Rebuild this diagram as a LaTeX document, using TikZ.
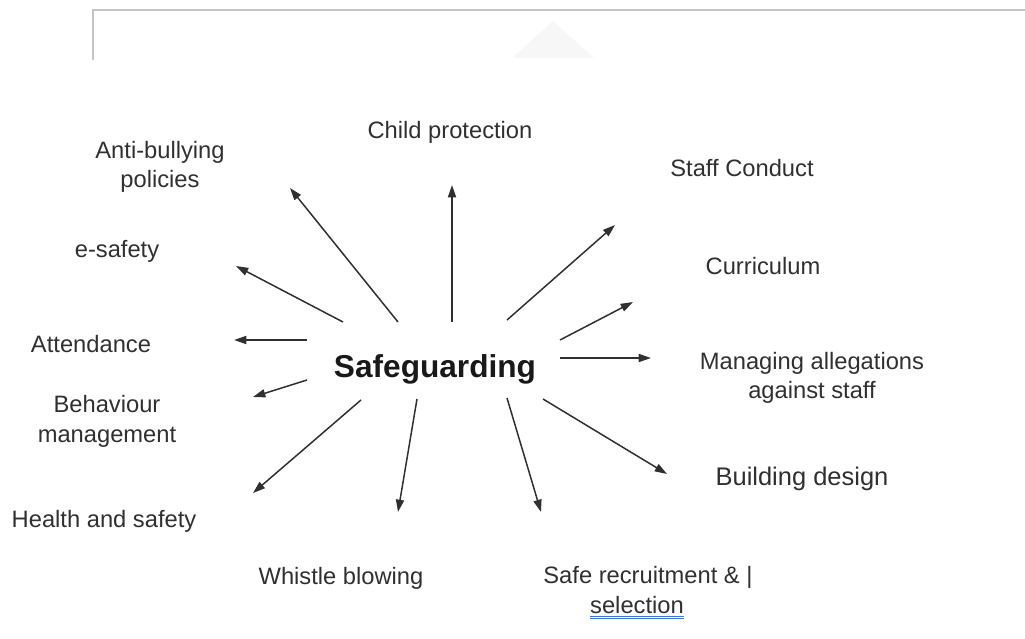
\documentclass[tikz,border=0pt]{standalone}
\usepackage{fontspec}
\setmainfont{Liberation Sans}
\usetikzlibrary{arrows.meta,calc}
\definecolor{ink}{HTML}{303030}
\definecolor{framegray}{HTML}{C4C4C4}
\definecolor{spellblue}{HTML}{3F74D8}
\tikzset{
  topic/.style={anchor=base,text=ink,inner sep=0pt,align=center,
    font=\fontsize{13.5}{16}\selectfont},
  spoke/.style={draw=ink,line width=0.85pt,-{Triangle[length=7pt,width=4.6pt]}}
}

\begin{document}
\begin{tikzpicture}[x=0.02cm,y=-0.02cm]
\useasboundingbox (0,0) rectangle (1025,639);
% window edge at the top
\fill [black!3] (553,21) -- (594,58) -- (512,58) -- cycle;
\draw [framegray,line width=1.1pt] (93,60) -- (93,10) -- (1025,10);

% centre word
\node [anchor=base,inner sep=0pt,text=black!90,font=\fontsize{18}{21}\selectfont\bfseries]
  (safeguarding) at (435,377) {Safeguarding};

% topics round it (two-line ones sit on their last line)
\node [topic] (childprot) at (450,138) {Child protection};
\node [topic] (antibully) at (160,187) {Anti-bullying\\policies};
\node [topic] (staffcond) at (742,176) {Staff Conduct};
\node [topic] (esafety) at (117,257) {e-safety};
\node [topic] (curric) at (763,274) {Curriculum};
\node [topic] (attend) at (91,352) {Attendance};
\node [topic] (allegations) at (812,398) {Managing allegations\\against staff};
\node [topic,font=\fontsize{13.5}{17}\selectfont] (behaviour) at (107,442) {Behaviour\\management};
\node [topic,font=\fontsize{14.5}{17}\selectfont] (building) at (802,485) {Building design};
\node [topic] (health) at (104,527) {Health and safety};
\node [topic] (whistle) at (341,584) {Whistle blowing};
\node [topic] (saferec) at (648,583) {Safe recruitment \& |};
\node [topic] (sel) at (637,613) {selection};
\draw [spellblue,line width=0.5pt]
  ($(sel.base west)+(0,3)$) -- ($(sel.base east)+(0,3)$);
\draw [spellblue,line width=0.5pt]
  ($(sel.base west)+(0,5.5)$) -- ($(sel.base east)+(0,5.5)$);

% spoke ends
\coordinate (cp-t) at (452,322);  \coordinate (cp-h) at (452,185);
\coordinate (ab-t) at (398,322);  \coordinate (ab-h) at (290,188);
\coordinate (sc-t) at (507,320);  \coordinate (sc-h) at (615,225);
\coordinate (es-t) at (343,322);  \coordinate (es-h) at (236,266);
\coordinate (cu-t) at (560,340);  \coordinate (cu-h) at (633,302);
\coordinate (at-t) at (307,340);  \coordinate (at-h) at (234,340);
\coordinate (ma-t) at (560,358);  \coordinate (ma-h) at (651,358);
\coordinate (be-t) at (307,380);  \coordinate (be-h) at (253,397);
\coordinate (bd-t) at (543,399);  \coordinate (bd-h) at (667,474);
\coordinate (hs-t) at (361,400);  \coordinate (hs-h) at (253,493);
\coordinate (wb-t) at (417,399);  \coordinate (wb-h) at (398,512);
\coordinate (sr-t) at (507,398);  \coordinate (sr-h) at (541,512);

\draw [spoke] (cp-t) -- (cp-h);
\draw [spoke] (ab-t) -- (ab-h);
\draw [spoke] (sc-t) -- (sc-h);
\draw [spoke] (es-t) -- (es-h);
\draw [spoke] (cu-t) -- (cu-h);
\draw [spoke] (at-t) -- (at-h);
\draw [spoke] (ma-t) -- (ma-h);
\draw [spoke] (be-t) -- (be-h);
\draw [spoke] (bd-t) -- (bd-h);
\draw [spoke] (hs-t) -- (hs-h);
\draw [spoke] (wb-t) -- (wb-h);
\draw [spoke] (sr-t) -- (sr-h);
\end{tikzpicture}
\end{document}
